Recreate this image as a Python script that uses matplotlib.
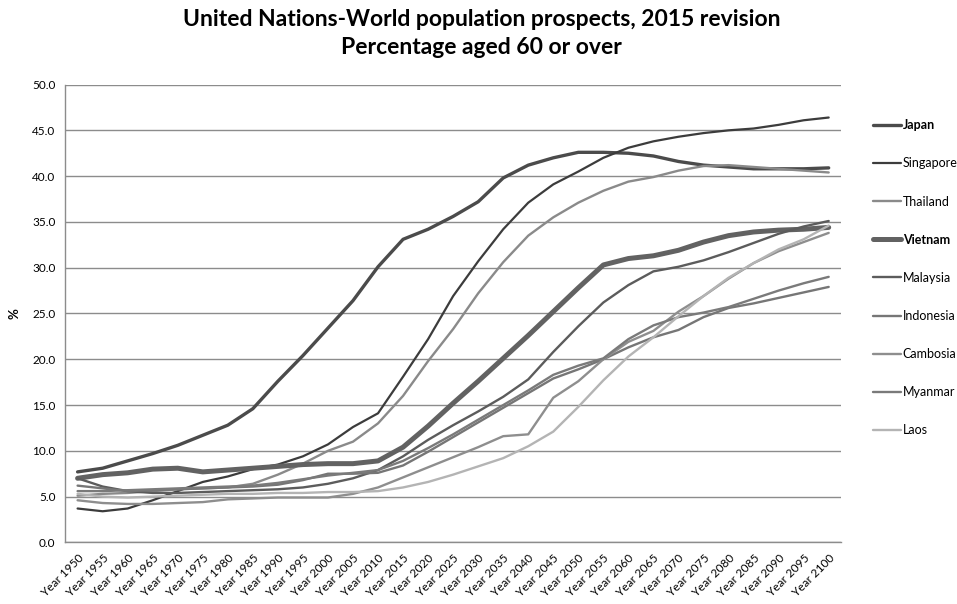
import numpy as np
import matplotlib
matplotlib.use("Agg")
import matplotlib.pyplot as plt

plt.rcParams['font.family'] = ['Lato', 'DejaVu Sans']

years = list(range(1950, 2101, 5))
year_labels = ["Year %d" % y for y in years]

japan = [7.7, 8.1, 8.9, 9.7, 10.6, 11.7, 12.8, 14.6, 17.6, 20.4, 23.4, 26.4, 30.1, 33.1, 34.2, 35.6,
         37.2, 39.8, 41.2, 42.0, 42.6, 42.6, 42.5, 42.2, 41.6, 41.2, 41.0, 40.8, 40.8, 40.8, 40.9]
singapore = [3.7, 3.4, 3.7, 4.6, 5.6, 6.6, 7.2, 8.0, 8.5, 9.4, 10.7, 12.6, 14.1, 18.1, 22.2, 26.9,
             30.7, 34.2, 37.1, 39.1, 40.5, 42.0, 43.1, 43.8, 44.3, 44.7, 45.0, 45.2, 45.6, 46.1, 46.4]
thailand = [5.1, 5.3, 5.4, 5.6, 5.8, 5.9, 6.0, 6.4, 7.4, 8.6, 10.0, 11.0, 13.0, 16.0, 19.8, 23.3,
            27.2, 30.6, 33.5, 35.5, 37.1, 38.4, 39.4, 39.9, 40.6, 41.1, 41.2, 41.0, 40.8, 40.6, 40.4]
vietnam = [7.0, 7.4, 7.6, 8.0, 8.1, 7.7, 7.9, 8.1, 8.3, 8.5, 8.6, 8.6, 8.9, 10.4, 12.7, 15.2,
           17.6, 20.1, 22.6, 25.2, 27.8, 30.3, 31.0, 31.3, 31.9, 32.8, 33.5, 33.9, 34.1, 34.2, 34.4]
malaysia = [7.0, 6.1, 5.6, 5.4, 5.4, 5.5, 5.6, 5.7, 5.8, 6.0, 6.4, 7.0, 7.9, 9.4, 11.2, 12.8,
            14.3, 15.9, 17.8, 20.8, 23.6, 26.2, 28.1, 29.6, 30.1, 30.8, 31.7, 32.7, 33.7, 34.5, 35.1]
indonesia = [6.2, 5.9, 5.6, 5.7, 5.8, 5.9, 6.0, 6.1, 6.3, 6.8, 7.5, 7.5, 7.6, 8.4, 9.9, 11.5,
             13.1, 14.7, 16.3, 17.9, 18.9, 20.0, 21.3, 22.4, 23.2, 24.6, 25.6, 26.1, 26.7, 27.3, 27.9]
cambosia = [4.6, 4.3, 4.2, 4.2, 4.3, 4.4, 4.7, 4.8, 4.9, 4.9, 4.9, 5.3, 6.0, 7.1, 8.2, 9.3,
            10.4, 11.6, 11.8, 15.8, 17.6, 20.0, 21.9, 23.1, 25.2, 26.9, 28.8, 30.5, 31.8, 32.8, 33.8]
myanmar = [5.6, 5.6, 5.7, 5.8, 5.9, 6.0, 6.1, 6.2, 6.5, 6.9, 7.3, 7.6, 7.9, 8.9, 10.3, 11.8,
           13.4, 15.0, 16.6, 18.3, 19.3, 20.1, 22.2, 23.7, 24.6, 25.1, 25.7, 26.6, 27.5, 28.3, 29.0]
laos = [5.3, 5.0, 4.9, 5.0, 5.1, 5.2, 5.3, 5.3, 5.4, 5.4, 5.5, 5.5, 5.6, 6.0, 6.6, 7.4,
        8.3, 9.2, 10.5, 12.1, 14.8, 17.7, 20.3, 22.4, 24.7, 26.9, 28.9, 30.5, 32.0, 33.1, 34.6]

series = [
    ("Japan", japan, "#4b4b4b", 2.4),
    ("Singapore", singapore, "#3c3c3c", 1.6),
    ("Thailand", thailand, "#8a8a8a", 1.7),
    ("Vietnam", vietnam, "#626262", 3.6),
    ("Malaysia", malaysia, "#5c5c5c", 1.7),
    ("Indonesia", indonesia, "#767676", 1.7),
    ("Cambosia", cambosia, "#8e8e8e", 1.7),
    ("Myanmar", myanmar, "#7a7a7a", 1.7),
    ("Laos", laos, "#b4b4b4", 1.7),
]

fig = plt.figure(figsize=(9.57, 6.04), dpi=100)
ax = fig.add_axes([0.068, 0.102, 0.811, 0.758])

x = np.arange(len(years))
for name, vals, col, lw in series:
    ax.plot(x, vals, color=col, lw=lw, label=name, solid_capstyle='round', solid_joinstyle='round')

ax.set_xlim(-0.5, len(years) - 0.5)
ax.set_ylim(0, 50)
ax.set_yticks(np.arange(0, 50.1, 5))
ax.set_yticklabels(["%.1f" % v for v in np.arange(0, 50.1, 5)], fontsize=8.5)
ax.set_xticks(x)
ax.set_xticklabels(year_labels, rotation=45, ha='right', rotation_mode='anchor', fontsize=8.5)
ax.tick_params(axis='both', length=0, pad=7)
ax.yaxis.grid(True, color='#8c8c8c', lw=1)
ax.set_axisbelow(True)
for s in ['top', 'right']:
    ax.spines[s].set_visible(False)
for s in ['left', 'bottom']:
    ax.spines[s].set_color('#8c8c8c')
    ax.spines[s].set_linewidth(1)

ax.set_ylabel('%', fontsize=9.5, fontweight='bold', labelpad=8)

fig.text(0.503, 1 - 20 / 604, 'United Nations-World population prospects, 2015 revision',
         ha='center', va='center', fontsize=16.5, fontweight='bold')
fig.text(0.503, 1 - 47 / 604, 'Percentage aged 60 or over',
         ha='center', va='center', fontsize=16.5, fontweight='bold')

leg = ax.legend(loc='upper left', bbox_to_anchor=(1.034, 0.935), frameon=False, fontsize=9,
                handlelength=2.3, handletextpad=0.1, labelspacing=2.09, borderaxespad=0)
for t in leg.get_texts():
    if t.get_text() in ("Japan", "Vietnam"):
        t.set_fontweight('bold')

fig.savefig('out.png', dpi=100)
